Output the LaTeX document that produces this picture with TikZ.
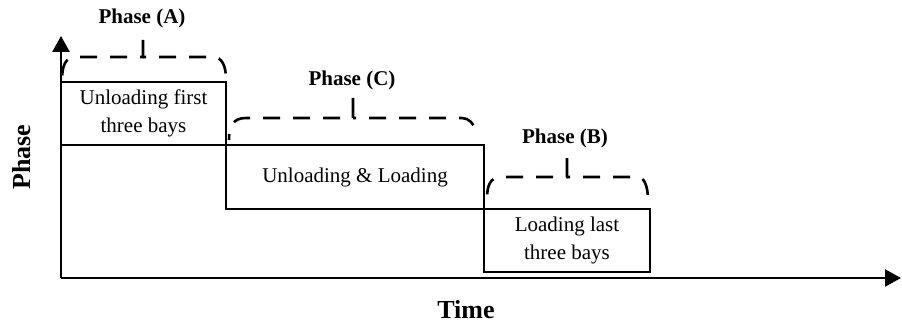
\documentclass[tikz,border=0pt]{standalone}
\usepackage{fontspec}
\setmainfont{Liberation Serif}
\usetikzlibrary{arrows.meta}
\begin{document}
\begin{tikzpicture}[x=1pt,y=-1pt,
  phasebox/.style={draw,line width=1.4pt,inner sep=0pt,align=center,
    font=\fontsize{21}{28}\selectfont},
  axisline/.style={line width=2.6pt,-{Triangle[length=16pt,width=17pt]}},
  bracket/.style={line width=2.6pt,dash pattern=on 20pt off 13pt on 17pt off 13pt on 17pt off 13pt on 17pt off 13pt on 17pt off 13pt},
  phaselabel/.style={font=\bfseries\fontsize{21}{24}\selectfont,inner sep=0pt},
  axislabel/.style={font=\bfseries\fontsize{26}{30}\selectfont,inner sep=0pt}]
\useasboundingbox (0,0) rectangle (902,326);
% axes
\coordinate (o) at (61,278);
\coordinate (ytip) at (61,36);
\coordinate (xtip) at (901,278);
% boxes
\node[phasebox,minimum width=165pt,minimum height=63pt] (A) at (143.5,113.5) {Unloading first\\three bays};
\node[phasebox,minimum width=258pt,minimum height=64pt] (C) at (355,177) {Unloading \& Loading};
\node[phasebox,minimum width=166pt,minimum height=63pt] (B) at (567,240.5) {Loading last\\three bays};
\draw[axisline] (o) -- (ytip);
\draw[axisline] (o) -- (xtip);
% brackets (drawn outward from the middle tick)
\draw[bracket] (143,40) -- (143,57) -- (76,57) .. controls (65,57) and (62,66) .. (62,81);
\draw[bracket,dash phase=17pt] (143,57) -- (213,57) .. controls (222,57) and (226,66) .. (226,79);
\draw[bracket] (353,98) -- (353,118) -- (246,118) .. controls (233,118) and (229,126) .. (229,140);
\draw[bracket,dash phase=17pt] (353,118) -- (462,118) .. controls (469,118) and (474,124) .. (476,131);
\draw[bracket] (567,158) -- (567,177) -- (501,177) .. controls (490,177) and (487,186) .. (487,199);
\draw[bracket,dash phase=17pt] (567,177) -- (638,177) .. controls (644,177) and (648,186) .. (648,200);
% labels
\node[phaselabel] (la) at (142,18) {Phase (A)};
\node[phaselabel] (lc) at (352,80) {Phase (C)};
\node[phaselabel] (lb) at (565,138) {Phase (B)};
\node[axislabel,rotate=90] (yl) at (22,157) {Phase};
\node[axislabel] (xl) at (466,310) {Time};
\end{tikzpicture}
\end{document}
